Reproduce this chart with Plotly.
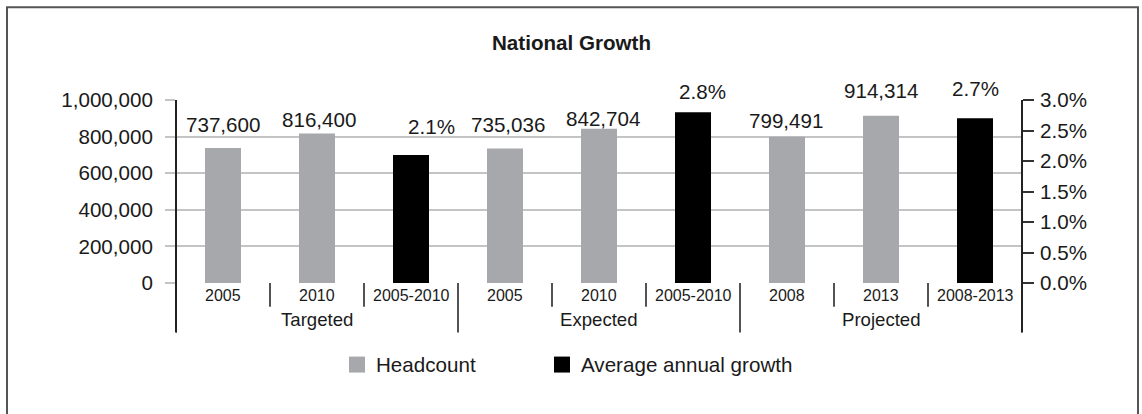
import plotly.graph_objects as go

# ---- data -------------------------------------------------------------
groups = ["Targeted", "Expected", "Projected"]
periods = ["2005", "2010", "2005-2010",
           "2005", "2010", "2005-2010",
           "2008", "2013", "2008-2013"]
headcount_pos = [0, 1, 3, 4, 6, 7]
headcount = [737600, 816400, 735036, 842704, 799491, 914314]
growth_pos = [2, 5, 8]
growth = [0.021, 0.028, 0.027]

# label nudges in pixels (x, y) relative to the top of each bar
headcount_nudge = [(0, 23.5), (2, 14), (2.5, 23.5), (4, 10), (-1, 16), (0, 25)]
growth_nudge = [(20.5, 28), (9, 20.5), (0, 30)]

# ---- styling ----------------------------------------------------------
W, H = 1142, 414
L, R, T, B = 176, 120, 100, 130.7
PW, PH = W - L - R, H - T - B
FONT = "Liberation Sans, Arial, Helvetica, sans-serif"
INK = "#1a1a1a"
GREY_BAR = "#a7a8ab"
BLACK_BAR = "#000000"
GRID = "#c4c4c4"
BAR_W = 0.383
FS = 20.6


def px_x(px):
    return (px - L) / PW


def px_y(py):
    return (T + PH - py) / PH


fig = go.Figure()

fig.add_trace(go.Bar(
    x=headcount_pos, y=headcount, width=BAR_W, name="Headcount",
    marker=dict(color=GREY_BAR, line=dict(width=0)), showlegend=False,
    hoverinfo="skip"))
fig.add_trace(go.Bar(
    x=growth_pos, y=growth, width=BAR_W, name="Average annual growth",
    yaxis="y2", marker=dict(color=BLACK_BAR, line=dict(width=0)),
    showlegend=False, hoverinfo="skip"))

ann = []
# value labels
for xi, v, (dx, dy) in zip(headcount_pos, headcount, headcount_nudge):
    ann.append(dict(x=xi, y=v, xref="x", yref="y", text=f"{v:,}",
                    showarrow=False, xanchor="center", yanchor="middle",
                    xshift=dx, yshift=dy, font=dict(size=FS, color=INK)))
for xi, v, (dx, dy) in zip(growth_pos, growth, growth_nudge):
    ann.append(dict(x=xi, y=v, xref="x", yref="y2", text=f"{v:.1%}",
                    showarrow=False, xanchor="center", yanchor="middle",
                    xshift=dx, yshift=dy, font=dict(size=FS, color=INK)))

# two-level category labels
for i, p in enumerate(periods):
    ann.append(dict(x=i, y=px_y(296), xref="x", yref="paper", text=p,
                    showarrow=False, xanchor="center", yanchor="middle",
                    font=dict(size=16, color=INK)))
for g_i, g in enumerate(groups):
    ann.append(dict(x=g_i * 3 + 1, y=px_y(319.5), xref="x", yref="paper",
                    text=g, showarrow=False, xanchor="center",
                    yanchor="middle", font=dict(size=18.6, color=INK)))

# title
ann.append(dict(x=px_x(571), y=px_y(42), xref="paper", yref="paper",
                text="<b>National Growth</b>", showarrow=False,
                xanchor="center", yanchor="middle",
                font=dict(size=FS, color=INK)))

# legend
legend_items = [("Headcount", GREY_BAR, 349), ("Average annual growth", BLACK_BAR, 554)]
shapes = []
for name, col, x0 in legend_items:
    shapes.append(dict(type="rect", xref="paper", yref="paper",
                       x0=px_x(x0), x1=px_x(x0 + 16), y0=px_y(373), y1=px_y(357),
                       fillcolor=col, line=dict(width=0)))
    ann.append(dict(x=px_x(x0 + 25), y=px_y(365), xref="paper", yref="paper",
                    text=name, showarrow=False, xanchor="left",
                    yanchor="middle", font=dict(size=FS, color=INK)))

# category dividers
n = len(periods)
for k in range(n + 1):
    xb = k - 0.5
    long_line = (k % 3 == 0)
    y_end = px_y(333) if long_line else px_y(307)
    shapes.append(dict(type="line", xref="x", yref="paper", x0=xb, x1=xb,
                       y0=0, y1=y_end, line=dict(color=INK, width=1.5)))

# vertical axis lines (extend down through the category band)
for xp in (0, 1):
    shapes.append(dict(type="line", xref="paper", yref="paper", x0=xp, x1=xp,
                       y0=1, y1=px_y(333), line=dict(color="#222222", width=2)))

# outer frame
shapes.append(dict(type="rect", xref="paper", yref="paper",
                   x0=px_x(7), x1=px_x(1138), y0=px_y(430), y1=px_y(7),
                   line=dict(color="#555555", width=2), fillcolor="rgba(0,0,0,0)"))

fig.update_layout(
    width=W, height=H,
    margin=dict(l=L, r=R, t=T, b=B, pad=0),
    paper_bgcolor="white", plot_bgcolor="white",
    font=dict(family=FONT, color=INK),
    barmode="overlay",
    showlegend=False,
    xaxis=dict(range=[-0.5, n - 0.5], showticklabels=False, showgrid=False,
               zeroline=False, showline=False, ticks=""),
    yaxis=dict(range=[0, 1000000], dtick=200000, tickformat=",d",
               showgrid=True, gridcolor=GRID, gridwidth=1.5,
               zeroline=False, showline=False,
               ticks="outside", ticklen=10, tickcolor=GRID, tickwidth=1.5,
               ticklabelstandoff=8,
               tickfont=dict(size=FS, color=INK)),
    yaxis2=dict(range=[0, 0.03], dtick=0.005, tickformat=".1%",
                overlaying="y", side="right", showgrid=False,
                zeroline=False, showline=False,
                ticks="outside", ticklen=11, tickcolor="#333333", tickwidth=1.5,
                ticklabelstandoff=2,
                tickfont=dict(size=FS, color=INK)),
    annotations=ann,
    shapes=shapes,
)

fig.write_html("out.html")
